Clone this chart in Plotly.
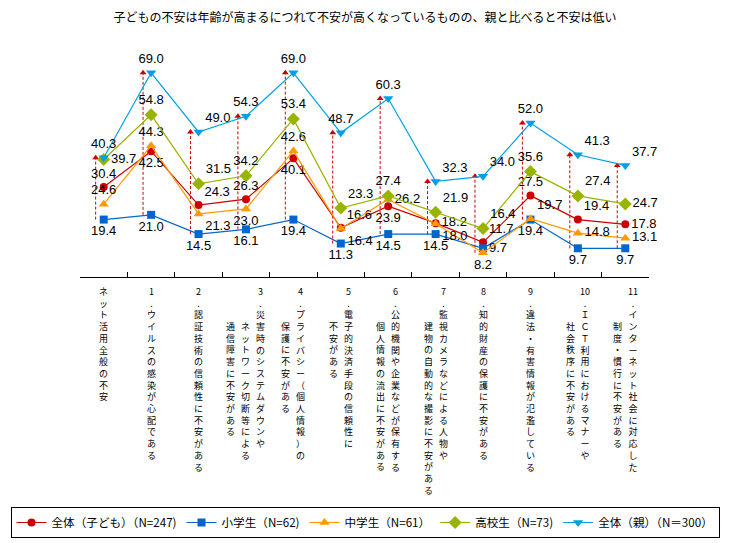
import plotly.graph_objects as go

# ---- data ----
title_text = "子どもの不安は年齢が高まるにつれて不安が高くなっているものの、親と比べると不安は低い"

cat_numbers = ["", "1", "2", "3", "4", "5", "6", "7", "8", "9", "10", "11"]
cat_label_columns = [
    ["ネット活用全般の不安"],
    ["ウイルスの感染が心配である"],
    ["認証技術の信頼性に不安がある"],
    ["災害時のシステムダウンや", "ネットワーク切断等による", "通信障害に不安がある"],
    ["プライバシー（個人情報）の", "保護に不安がある"],
    ["電子的決済手段の信頼性に", "不安がある"],
    ["公的機関や企業などが保有する", "個人情報の流出に不安がある"],
    ["監視カメラなどによる人物や", "建物の自動的な撮影に不安がある"],
    ["知的財産の保護に不安がある"],
    ["違法・有害情報が氾濫している"],
    ["ＩＣＴ利用におけるマナーや", "社会秩序に不安がある"],
    ["インターネット社会に対応した", "制度・慣行に不安がある"],
]

series_names = ["全体（子ども）（N=247)", "小学生（N=62)", "中学生（N=61）", "高校生（N=73)", "全体（親）（N＝300）"]
children_all = [30.4, 42.5, 24.3, 26.3, 40.1, 16.6, 23.9, 18.2, 11.7, 27.5, 19.4, 17.8]
elementary = [19.4, 21.0, 14.5, 16.1, 19.4, 11.3, 14.5, 14.5, 9.7, 19.4, 9.7, 9.7]
junior_high = [24.6, 44.3, 21.3, 23.0, 42.6, 16.4, 26.2, 18.0, 8.2, 19.7, 14.8, 13.1]
high_school = [39.7, 54.8, 31.5, 34.2, 53.4, 23.3, 27.4, 21.9, 16.4, 35.6, 27.4, 24.7]
parents_all = [40.3, 69.0, 49.0, 54.3, 69.0, 48.7, 60.3, 32.3, 34.0, 52.0, 41.3, 37.7]

# ---- styles ----
colors = ["#CC0000", "#0066CC", "#FF9900", "#99B400", "#00A0E6"]
symbols = ["circle", "square", "triangle-up", "diamond", "triangle-down"]
msizes = [8, 8, 9, 10, 9]
positions = [
    ["top center", "bottom center", "top right", "top center", "bottom center", "top right",
     "bottom center", "middle right", "top right", "top center", "top right", "middle right"],
    ["bottom center"] * 8 + ["middle right"] + ["bottom center"] * 3,
    ["top center", "top center", "bottom right", "bottom center", "top center", "bottom right",
     "middle right", "bottom right", "bottom center", "top right", "middle right", "middle right"],
    ["middle right", "top center", "top right", "top center", "top center", "top right",
     "top center", "top right", "top right", "top center", "top right", "middle right"],
    ["top center", "top center", "top right", "top center", "top center", "top center",
     "top center", "top right", "top right", "top center", "top right", "top right"],
]

FONT = "Liberation Sans, Noto Sans CJK JP, sans-serif"
CJK = "Noto Sans CJK JP, sans-serif"

W, H = 730, 543
ML, MR, MT, MB = 2, 2, 55, 265.5
PLOT_L, PLOT_R = 80, 649

xs = list(range(len(cat_numbers)))
all_series = [children_all, elementary, junior_high, high_school, parents_all]

fig = go.Figure()

# dashed range lines (min -> max at each category) with arrow heads
dash_off = -0.17
lx, ly, ax, ay = [], [], [], []
for i in xs:
    vals = [s[i] for s in all_series]
    lo, hi = min(vals), max(vals)
    lx += [i + dash_off, i + dash_off, None]
    ly += [lo, hi, None]
    ax.append(i + dash_off)
    ay.append(hi)
fig.add_trace(go.Scatter(x=lx, y=ly, mode="lines", showlegend=False, hoverinfo="skip",
                         line=dict(color="#CC0000", width=1, dash="3px,2px")))
fig.add_trace(go.Scatter(x=ax, y=ay, mode="markers", showlegend=False, hoverinfo="skip",
                         marker=dict(symbol="triangle-up", size=6, color="#CC0000")))

for name, vals, col, sym, ms, pos in zip(series_names, all_series, colors, symbols, msizes, positions):
    fig.add_trace(go.Scatter(
        x=xs, y=vals, name=name, mode="lines+markers+text",
        text=[f"{v:.1f}" for v in vals], textposition=pos,
        textfont=dict(family=FONT, size=13, color="#000000"),
        line=dict(color=col, width=1.2),
        marker=dict(symbol=sym, size=ms, color=col),
        cliponaxis=False,
    ))

# vertical category labels
LABEL_SIZE = 9
LINE_PX = 1.3 * LABEL_SIZE
anns = []
for i, (num, cols) in enumerate(zip(cat_numbers, cat_label_columns)):
    n = len(cols)
    for j, col in enumerate(cols):
        chars = list(col)
        if j == 0 and num:
            chars = [num, "."] + chars
        shift_y = -6
        if j > 0:
            shift_y -= 3 * LINE_PX
        anns.append(dict(
            x=i, y=0, xref="x", yref="paper", xanchor="center", yanchor="top",
            xshift=((n - 1) / 2 - j) * 15, yshift=shift_y,
            text="<br>".join(chars), showarrow=False, align="center",
            font=dict(family=CJK, size=LABEL_SIZE, color="#000000"),
        ))

gw = W - ML - MR
gh = H - MT - MB
fig.update_layout(
    width=W, height=H,
    margin=dict(l=ML, r=MR, t=MT, b=MB, autoexpand=False),
    paper_bgcolor="white", plot_bgcolor="white",
    font=dict(family=FONT, size=12, color="#000000"),
    title=dict(text=title_text, x=0.5, xref="container", xanchor="center",
               y=1 - 18 / H, yref="container", yanchor="middle",
               font=dict(family=CJK, size=12, color="#000000")),
    xaxis=dict(domain=[(PLOT_L - ML) / gw, (PLOT_R - ML) / gw],
               range=[-0.5, 11.5], showgrid=False, zeroline=False, showline=True,
               linecolor="#000000", linewidth=1, tickmode="array",
               tickvals=[i - 0.5 for i in range(13)], ticks="inside", ticklen=5,
               tickcolor="#000000", showticklabels=False, fixedrange=True),
    yaxis=dict(range=[0, 75], visible=False, fixedrange=True),
    legend=dict(orientation="h", xref="paper", yref="paper",
                x=0.5, xanchor="center", y=-(508 - MT - gh) / gh, yanchor="top",
                bordercolor="#000000", borderwidth=1, bgcolor="white",
                font=dict(family=CJK, size=11.6), itemwidth=30,
                tracegroupgap=0),
    annotations=anns,
    showlegend=True,
)

fig.write_html("out.html", config={"displayModeBar": False},
               post_script="document.body.style.margin='0';document.body.style.overflow='hidden';")
